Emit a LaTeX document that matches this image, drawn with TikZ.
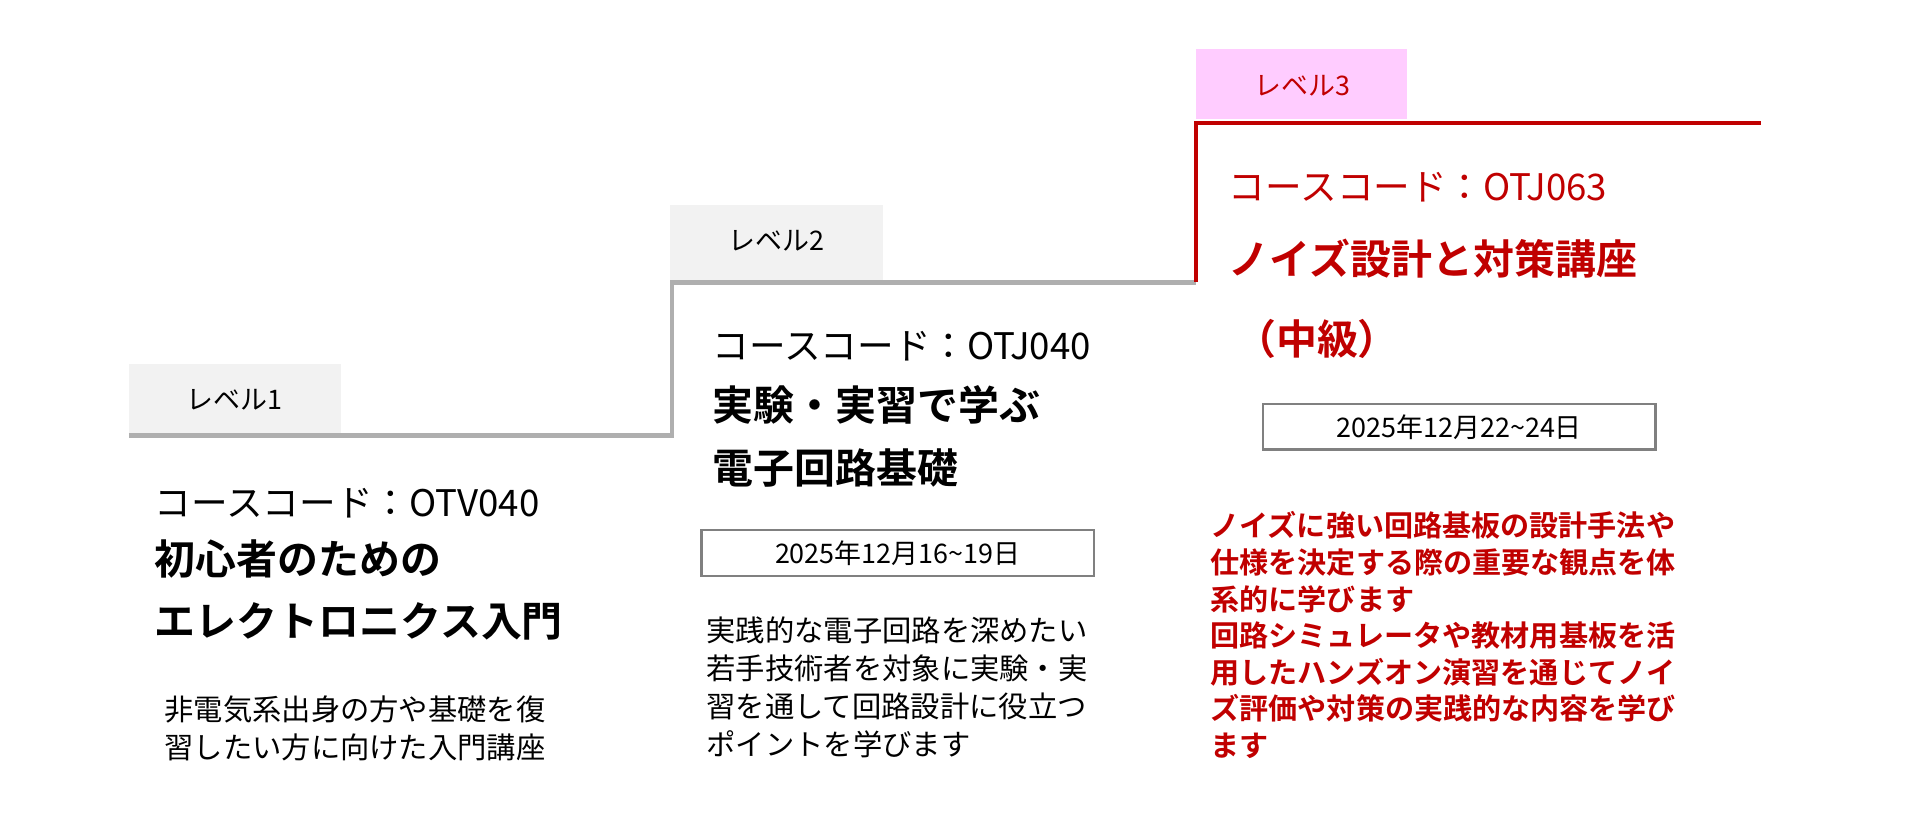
\documentclass[tikz,border=0pt]{standalone}
\usepackage{fontspec}
\setmainfont{Noto Sans CJK JP}[BoldFont={Noto Sans CJK JP Bold}]
\usetikzlibrary{positioning}
\definecolor{tabgray}{RGB}{242,242,242}
\definecolor{stepgray}{RGB}{175,175,175}
\definecolor{darkred}{RGB}{192,0,0}
\definecolor{tabpink}{RGB}{255,204,255}
\tikzset{
  tabtext/.style={font=\fontsize{12.5pt}{14pt}\selectfont},
  codetext/.style={anchor=west,font=\fontsize{17pt}{19pt}\selectfont},
  titletext/.style={anchor=west,align=left,font=\fontsize{19pt}{29pt}\selectfont\bfseries},
  desctext/.style={anchor=north west,align=left,font=\fontsize{13.6pt}{17.6pt}\selectfont},
  datebox/.style={draw=gray,line width=1pt,minimum width=320*0.02cm,minimum height=37*0.02cm,font=\fontsize{12.5pt}{14pt}\selectfont}
}
\begin{document}
\begin{tikzpicture}[x=0.02cm,y=-0.02cm]
  \useasboundingbox (0,0) rectangle (1560,673);
  % tabs
  \fill[tabgray] (105,297) rectangle (278,355);
  \node[tabtext] (tab1) at (191,326) {レベル1};
  \fill[tabgray] (546,167) rectangle (720,228);
  \node[tabtext] (tab2) at (633,196) {レベル2};
  \fill[tabpink] (975,40) rectangle (1147,97);
  \node[tabtext,text=darkred] (tab3) at (1062,70) {レベル3};
  % steps
  \draw[stepgray,line width=2.3pt] (105,355) -- (548,355) -- (548,230) -- (975,230);
  \draw[darkred,line width=1.8pt] (975,230) -- (975,100) -- (1436,100);
  % level 1
  \node[codetext] (code1) at (120,410) {コースコード：OTV040};
  \node[titletext] (title1) at (120,481) {初心者のための\\エレクトロニクス入門};
  \node[desctext] (desc1) at (128,561) {非電気系出身の方や基礎を復\\習したい方に向けた入門講座};
  % level 2
  \node[codetext] (code2) at (575,282) {コースコード：OTJ040};
  \node[titletext] (title2) at (575,356) {実験・実習で学ぶ\\電子回路基礎};
  \node[datebox] (date2) at (732,451) {2025年12月16\textasciitilde19日};
  \node[desctext] (desc2) at (570,497) {実践的な電子回路を深めたい\\若手技術者を対象に実験・実\\習を通して回路設計に役立つ\\ポイントを学びます};
  % level 3
  \node[codetext,text=darkred] (code3) at (996,153) {コースコード：OTJ063};
  \node[titletext,text=darkred] (title3) at (996,211) {ノイズ設計と対策講座};
  \node[titletext,text=darkred] (grade3) at (1001,276) {（中級）};
  \node[datebox] (date3) at (1190,348) {2025年12月22\textasciitilde24日};
  \node[desctext,text=darkred,font=\fontsize{13.5pt}{17pt}\selectfont\bfseries] (desc3) at (981,411) {ノイズに強い回路基板の設計手法や\\仕様を決定する際の重要な観点を体\\系的に学びます\\回路シミュレータや教材用基板を活\\用したハンズオン演習を通じてノイ\\ズ評価や対策の実践的な内容を学び\\ます};
\end{tikzpicture}
\end{document}
